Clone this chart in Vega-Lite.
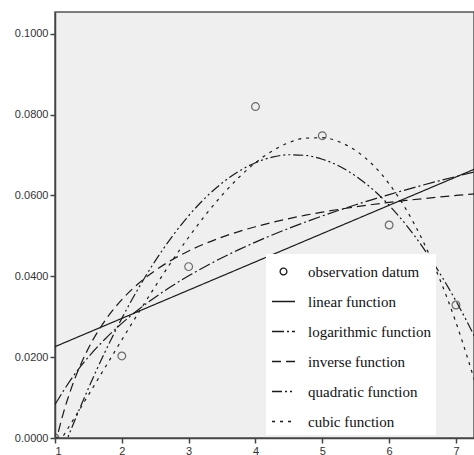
{
  "$schema": "https://vega.github.io/schema/vega-lite/v6.json",
  "width": 419,
  "height": 426,
  "autosize": {"type": "none"},
  "padding": {"left": 55, "top": 12, "right": 0, "bottom": 17},
  "background": "white",
  "config": {
    "view": {"fill": "#efefef", "stroke": "#555555", "strokeWidth": 1.5},
    "axis": {"grid": false, "labelFont": "Liberation Sans", "labelFontSize": 11, "labelColor": "#333333", "domainColor": "#444444", "domainWidth": 1.5, "tickColor": "#444444", "tickWidth": 1.5, "tickSize": 5, "labelPadding": 2, "title": null}
  },
  "datasets": {
    "obs": [
      {"x": 1, "y": 0.0, "series": "observation datum"},
      {"x": 2, "y": 0.0203, "series": "observation datum"},
      {"x": 3, "y": 0.0424, "series": "observation datum"},
      {"x": 4, "y": 0.0820, "series": "observation datum"},
      {"x": 5, "y": 0.0748, "series": "observation datum"},
      {"x": 6, "y": 0.0527, "series": "observation datum"},
      {"x": 7, "y": 0.0329, "series": "observation datum"}
    ],
    "curves": [
      {"fn": "linear function", "x": 1, "y": 0.022597},
      {"fn": "linear function", "x": 7.3, "y": 0.066673},

      {"fn": "logarithmic function", "x": 1, "y": 0.008278},
      {"fn": "logarithmic function", "x": 1.25, "y": 0.014747},
      {"fn": "logarithmic function", "x": 1.5, "y": 0.020033},
      {"fn": "logarithmic function", "x": 1.75, "y": 0.024502},
      {"fn": "logarithmic function", "x": 2, "y": 0.028373},
      {"fn": "logarithmic function", "x": 2.25, "y": 0.031788},
      {"fn": "logarithmic function", "x": 2.5, "y": 0.034842},
      {"fn": "logarithmic function", "x": 2.75, "y": 0.037605},
      {"fn": "logarithmic function", "x": 3, "y": 0.040128},
      {"fn": "logarithmic function", "x": 3.25, "y": 0.042448},
      {"fn": "logarithmic function", "x": 3.5, "y": 0.044597},
      {"fn": "logarithmic function", "x": 3.75, "y": 0.046597},
      {"fn": "logarithmic function", "x": 4, "y": 0.048468},
      {"fn": "logarithmic function", "x": 4.25, "y": 0.050226},
      {"fn": "logarithmic function", "x": 4.5, "y": 0.051882},
      {"fn": "logarithmic function", "x": 4.75, "y": 0.053450},
      {"fn": "logarithmic function", "x": 5, "y": 0.054937},
      {"fn": "logarithmic function", "x": 5.25, "y": 0.056352},
      {"fn": "logarithmic function", "x": 5.5, "y": 0.057700},
      {"fn": "logarithmic function", "x": 5.75, "y": 0.058989},
      {"fn": "logarithmic function", "x": 6, "y": 0.060223},
      {"fn": "logarithmic function", "x": 6.25, "y": 0.061406},
      {"fn": "logarithmic function", "x": 6.5, "y": 0.062543},
      {"fn": "logarithmic function", "x": 6.75, "y": 0.063637},
      {"fn": "logarithmic function", "x": 7, "y": 0.064692},
      {"fn": "logarithmic function", "x": 7.3, "y": 0.065908},

      {"fn": "inverse function", "x": 1, "y": -0.001848},
      {"fn": "inverse function", "x": 1.125, "y": 0.006170},
      {"fn": "inverse function", "x": 1.25, "y": 0.012585},
      {"fn": "inverse function", "x": 1.5, "y": 0.022207},
      {"fn": "inverse function", "x": 1.75, "y": 0.029079},
      {"fn": "inverse function", "x": 2, "y": 0.034234},
      {"fn": "inverse function", "x": 2.25, "y": 0.038243},
      {"fn": "inverse function", "x": 2.5, "y": 0.041450},
      {"fn": "inverse function", "x": 2.75, "y": 0.044075},
      {"fn": "inverse function", "x": 3, "y": 0.046261},
      {"fn": "inverse function", "x": 3.25, "y": 0.048112},
      {"fn": "inverse function", "x": 3.5, "y": 0.049698},
      {"fn": "inverse function", "x": 3.75, "y": 0.051072},
      {"fn": "inverse function", "x": 4, "y": 0.052275},
      {"fn": "inverse function", "x": 4.25, "y": 0.053336},
      {"fn": "inverse function", "x": 4.5, "y": 0.054280},
      {"fn": "inverse function", "x": 4.75, "y": 0.055124},
      {"fn": "inverse function", "x": 5, "y": 0.055883},
      {"fn": "inverse function", "x": 5.25, "y": 0.056571},
      {"fn": "inverse function", "x": 5.5, "y": 0.057195},
      {"fn": "inverse function", "x": 5.75, "y": 0.057766},
      {"fn": "inverse function", "x": 6, "y": 0.058289},
      {"fn": "inverse function", "x": 6.25, "y": 0.058770},
      {"fn": "inverse function", "x": 6.5, "y": 0.059214},
      {"fn": "inverse function", "x": 6.75, "y": 0.059625},
      {"fn": "inverse function", "x": 7, "y": 0.060007},
      {"fn": "inverse function", "x": 7.3, "y": 0.060431},

      {"fn": "quadratic function", "x": 1, "y": -0.008063},
      {"fn": "quadratic function", "x": 1.25, "y": 0.002501},
      {"fn": "quadratic function", "x": 1.5, "y": 0.012299},
      {"fn": "quadratic function", "x": 1.75, "y": 0.021330},
      {"fn": "quadratic function", "x": 2, "y": 0.029594},
      {"fn": "quadratic function", "x": 2.25, "y": 0.037092},
      {"fn": "quadratic function", "x": 2.5, "y": 0.043824},
      {"fn": "quadratic function", "x": 2.75, "y": 0.049788},
      {"fn": "quadratic function", "x": 3, "y": 0.054987},
      {"fn": "quadratic function", "x": 3.25, "y": 0.059419},
      {"fn": "quadratic function", "x": 3.5, "y": 0.063084},
      {"fn": "quadratic function", "x": 3.75, "y": 0.065983},
      {"fn": "quadratic function", "x": 4, "y": 0.068115},
      {"fn": "quadratic function", "x": 4.25, "y": 0.069481},
      {"fn": "quadratic function", "x": 4.5, "y": 0.070080},
      {"fn": "quadratic function", "x": 4.75, "y": 0.069913},
      {"fn": "quadratic function", "x": 5, "y": 0.068979},
      {"fn": "quadratic function", "x": 5.25, "y": 0.067278},
      {"fn": "quadratic function", "x": 5.5, "y": 0.064812},
      {"fn": "quadratic function", "x": 5.75, "y": 0.061578},
      {"fn": "quadratic function", "x": 6, "y": 0.057578},
      {"fn": "quadratic function", "x": 6.25, "y": 0.052812},
      {"fn": "quadratic function", "x": 6.5, "y": 0.047279},
      {"fn": "quadratic function", "x": 6.75, "y": 0.040979},
      {"fn": "quadratic function", "x": 7, "y": 0.033913},
      {"fn": "quadratic function", "x": 7.3, "y": 0.024422},

      {"fn": "cubic function", "x": 1, "y": -0.002747},
      {"fn": "cubic function", "x": 1.25, "y": 0.003871},
      {"fn": "cubic function", "x": 1.5, "y": 0.010638},
      {"fn": "cubic function", "x": 1.75, "y": 0.017467},
      {"fn": "cubic function", "x": 2, "y": 0.024278},
      {"fn": "cubic function", "x": 2.25, "y": 0.030986},
      {"fn": "cubic function", "x": 2.5, "y": 0.037511},
      {"fn": "cubic function", "x": 2.75, "y": 0.043765},
      {"fn": "cubic function", "x": 3, "y": 0.049671},
      {"fn": "cubic function", "x": 3.25, "y": 0.055141},
      {"fn": "cubic function", "x": 3.5, "y": 0.060094},
      {"fn": "cubic function", "x": 3.75, "y": 0.064446},
      {"fn": "cubic function", "x": 4, "y": 0.068115},
      {"fn": "cubic function", "x": 4.25, "y": 0.071018},
      {"fn": "cubic function", "x": 4.5, "y": 0.073070},
      {"fn": "cubic function", "x": 4.75, "y": 0.074191},
      {"fn": "cubic function", "x": 5, "y": 0.074295},
      {"fn": "cubic function", "x": 5.25, "y": 0.073301},
      {"fn": "cubic function", "x": 5.5, "y": 0.071125},
      {"fn": "cubic function", "x": 5.75, "y": 0.067684},
      {"fn": "cubic function", "x": 6, "y": 0.062894},
      {"fn": "cubic function", "x": 6.25, "y": 0.056675},
      {"fn": "cubic function", "x": 6.5, "y": 0.048940},
      {"fn": "cubic function", "x": 6.75, "y": 0.039609},
      {"fn": "cubic function", "x": 7, "y": 0.028597},
      {"fn": "cubic function", "x": 7.3, "y": 0.013048}
    ]
  },
  "layer": [
    {
      "data": {"name": "curves"},
      "mark": {"type": "line", "clip": true, "strokeWidth": 1.2, "color": "#1a1a1a", "interpolate": "monotone"},
      "encoding": {
        "x": {"field": "x", "type": "quantitative", "scale": {"domain": [1, 7.27], "nice": false, "zero": false},
              "axis": {"values": [1, 2, 3, 4, 5, 6, 7], "format": "d"}},
        "y": {"field": "y", "type": "quantitative", "scale": {"domain": [0, 0.1054], "nice": false},
              "axis": {"values": [0, 0.02, 0.04, 0.06, 0.08, 0.1], "format": ".4f"}},
        "strokeDash": {
          "field": "fn", "type": "nominal",
          "scale": {
            "domain": ["observation datum", "linear function", "logarithmic function", "inverse function", "quadratic function", "cubic function"],
            "range": [[1, 0], [1, 0], [12, 3, 2, 3], [9, 5], [10, 3, 2, 3, 2, 3], [3, 5]]
          },
          "legend": {
            "title": null,
            "orient": "none",
            "legendX": 211,
            "legendY": 242,
            "fillColor": "white",
            "padding": 5,
            "symbolType": "stroke",
            "symbolSize": 529,
            "symbolStrokeWidth": 1.3,
            "symbolStrokeColor": "#1a1a1a",
            "labelFont": "Liberation Serif",
            "labelFontSize": 15,
            "labelColor": "#111111",
            "labelOffset": 12,
            "labelLimit": 300,
            "rowPadding": 9,
            "encode": {
              "symbols": {
                "update": {
                  "shape": {"signal": "datum.value === 'observation datum' ? 'circle' : 'stroke'"},
                  "size": {"signal": "datum.value === 'observation datum' ? 45 : 529"},
                  "fill": {"value": "transparent"},
                  "stroke": {"value": "#1a1a1a"}
                }
              }
            }
          }
        }
      }
    },
    {
      "data": {"name": "obs"},
      "mark": {"type": "point", "clip": true, "shape": "circle", "filled": false, "size": 60, "strokeWidth": 1.2, "color": "#333333"},
      "encoding": {
        "x": {"field": "x", "type": "quantitative"},
        "y": {"field": "y", "type": "quantitative"}
      }
    }
  ]
}
